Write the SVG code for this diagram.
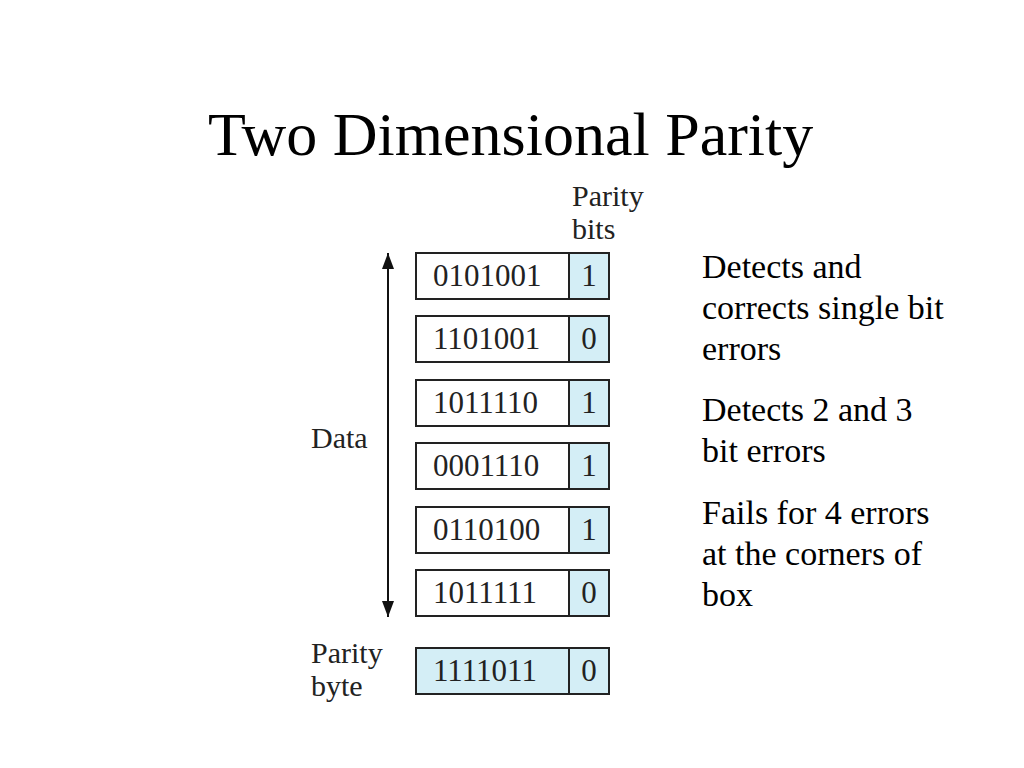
<svg xmlns="http://www.w3.org/2000/svg" width="1024" height="768" viewBox="0 0 1024 768">
<style>
.title{font-family:"Liberation Serif","Times New Roman",serif;font-size:62px;fill:#000}
.bullet{font-family:"Liberation Serif","Times New Roman",serif;font-size:34px;fill:#000}
.lbl{font-family:"Liberation Serif","Times New Roman",serif;font-size:30px;fill:#222}
.bits{font-family:"Liberation Serif","Times New Roman",serif;font-size:31px;fill:#222}
.data{fill:#fff;stroke:#222;stroke-width:2}
.par{fill:#d4eef6;stroke:#222;stroke-width:2}
.conn{stroke:#111;stroke-width:2;fill:none}
</style>
<defs>
<marker id="ah" viewBox="0 0 16 12" refX="16" refY="6" markerWidth="16" markerHeight="12" markerUnits="userSpaceOnUse" orient="auto-start-reverse">
<path d="M0,0 L16,6 L0,12 Z" fill="#111"/>
</marker>
</defs>
<rect width="1024" height="768" fill="#fff"/>
<text class="title" x="208" y="155">Two Dimensional Parity</text>

<g id="label-parity-bits"><text class="lbl" x="572" y="206">Parity</text><text class="lbl" x="572" y="239">bits</text></g>
<g id="label-data"><text class="lbl" x="311" y="448">Data</text></g>
<g id="label-parity-byte"><text class="lbl" x="311" y="663">Parity</text><text class="lbl" x="311" y="696">byte</text></g>

<g id="connectors">
<line class="conn" x1="388" y1="253" x2="388" y2="617" marker-start="url(#ah)" marker-end="url(#ah)"/>
</g>

<g id="row1"><rect class="data" x="416" y="253" width="153" height="46"/><rect class="par" x="569" y="253" width="40" height="46"/><text class="bits" x="433" y="286">0101001</text><text class="bits" x="589" y="286" text-anchor="middle">1</text></g>
<g id="row2"><rect class="data" x="416" y="316" width="153" height="46"/><rect class="par" x="569" y="316" width="40" height="46"/><text class="bits" x="433" y="349">1101001</text><text class="bits" x="589" y="349" text-anchor="middle">0</text></g>
<g id="row3"><rect class="data" x="416" y="380" width="153" height="46"/><rect class="par" x="569" y="380" width="40" height="46"/><text class="bits" x="433" y="413">1011110</text><text class="bits" x="589" y="413" text-anchor="middle">1</text></g>
<g id="row4"><rect class="data" x="416" y="443" width="153" height="46"/><rect class="par" x="569" y="443" width="40" height="46"/><text class="bits" x="433" y="476">0001110</text><text class="bits" x="589" y="476" text-anchor="middle">1</text></g>
<g id="row5"><rect class="data" x="416" y="507" width="153" height="46"/><rect class="par" x="569" y="507" width="40" height="46"/><text class="bits" x="433" y="540">0110100</text><text class="bits" x="589" y="540" text-anchor="middle">1</text></g>
<g id="row6"><rect class="data" x="416" y="570" width="153" height="46"/><rect class="par" x="569" y="570" width="40" height="46"/><text class="bits" x="433" y="603">1011111</text><text class="bits" x="589" y="603" text-anchor="middle">0</text></g>
<g id="parity-byte"><rect class="par" x="416" y="648" width="153" height="46"/><rect class="par" x="569" y="648" width="40" height="46"/><text class="bits" x="433" y="681">1111011</text><text class="bits" x="589" y="681" text-anchor="middle">0</text></g>

<g id="notes">
<text class="bullet" x="702" y="278">Detects and</text>
<text class="bullet" x="702" y="319">corrects single bit</text>
<text class="bullet" x="702" y="360">errors</text>
<text class="bullet" x="702" y="421">Detects 2 and 3</text>
<text class="bullet" x="702" y="462">bit errors</text>
<text class="bullet" x="702" y="524">Fails for 4 errors</text>
<text class="bullet" x="702" y="565">at the corners of</text>
<text class="bullet" x="702" y="606">box</text>
</g>
</svg>
